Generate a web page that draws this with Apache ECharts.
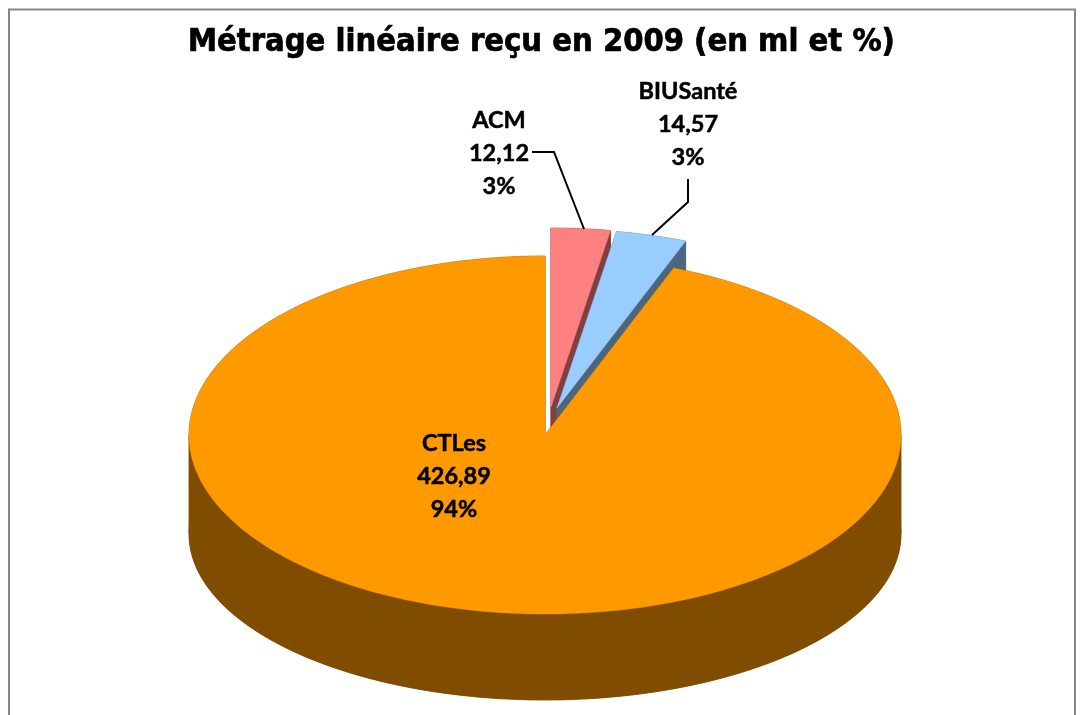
<!DOCTYPE html>
<html>
<head>
<meta charset="utf-8">
<title>Métrage linéaire reçu en 2009</title>
<script src="https://cdn.jsdelivr.net/npm/echarts@6/dist/echarts.min.js"></script>
<style>
  html, body { margin: 0; padding: 0; background: #fff; }
  #chart { width: 1080px; height: 715px; }
</style>
</head>
<body>
<div id="chart"></div>
<script>
// chart data
var chartTitle = "Métrage linéaire reçu en 2009 (en ml et %)";
var categories = ["ACM", "BIUSanté", "CTLes"];
var metrage = [12.12, 14.57, 426.89];

// look of each slice, same order as categories
var topColors = ["#FF8080", "#99CCFF", "#FF9900"];
var sideColors = ["#804040", "#4D6680", "#804D00"];
var sliceOffsets = [[6, -28], [12, -27], [0, 0]];
var labelCenters = [[499, 120], [688, 91], [454, 443]];
var leaderLines = [
  [[532, 152], [554, 152], [584, 229]],
  [[688, 179], [688, 202], [652, 235]],
  null
];

// ellipse of the pie
var cx = 545, cy = 435, rx = 356, ry = 179;
// the lower rim is a bit flatter than the top one
var lowerShift = 99, lowerRy = 166;

var total = metrage.reduce(function (a, b) { return a + b; }, 0);

function angleOf(index) {
  var sum = 0;
  for (var i = 0; i < index; i++) sum += metrage[i];
  return (sum / total) * Math.PI * 2;
}

function arcPoints(a0, a1, x0, y0, h) {
  var pts = [];
  var steps = Math.max(2, Math.ceil((a1 - a0) / (Math.PI / 180)));
  for (var i = 0; i <= steps; i++) {
    var a = a0 + ((a1 - a0) * i) / steps;
    pts.push([x0 + rx * Math.sin(a), y0 - h * Math.cos(a)]);
  }
  return pts;
}

function poly(points, color) {
  return {
    type: "polygon",
    shape: { points: points },
    style: { fill: color, stroke: color, lineWidth: 0.5 }
  };
}

// outer wall, cut where the rim turns back so the fill does not cancel out
function wallParts(a0, a1, x0, y0, color) {
  var parts = [];
  var cuts = [a0];
  [Math.PI / 2, (Math.PI * 3) / 2].forEach(function (c) {
    if (c > a0 && c < a1) cuts.push(c);
  });
  cuts.push(a1);
  for (var i = 0; i < cuts.length - 1; i++) {
    var up = arcPoints(cuts[i], cuts[i + 1], x0, y0, ry);
    var low = arcPoints(cuts[i], cuts[i + 1], x0, y0 + lowerShift, lowerRy);
    parts.push(poly(up.concat(low.reverse()), color));
  }
  return parts;
}

function renderSlice(params, api) {
  var i = params.dataIndex;
  var a0 = angleOf(i);
  var a1 = a0 + (api.value(0) / total) * Math.PI * 2;
  var x0 = cx + sliceOffsets[i][0];
  var y0 = cy + sliceOffsets[i][1];

  var upper = arcPoints(a0, a1, x0, y0, ry);
  var lower = arcPoints(a0, a1, x0, y0 + lowerShift, lowerRy);
  var apex = [x0, y0];
  var lowerApex = [x0, y0 + lowerShift];
  var first = upper[0], last = upper[upper.length - 1];
  var color = sideColors[i];

  var children = [poly([lowerApex].concat(lower), color)]
    .concat(wallParts(a0, a1, x0, y0, color))
    .concat([
      poly([apex, first, lower[0], lowerApex], color),
      poly([apex, last, lower[lower.length - 1], lowerApex], color),
      poly([apex].concat(upper), topColors[i])
    ]);

  if (leaderLines[i]) {
    children.push({
      type: "polyline",
      z2: 20,
      shape: { points: leaderLines[i] },
      style: { fill: null, stroke: "#000", lineWidth: 2 }
    });
  }

  var rows = [
    categories[i],
    api.value(0).toFixed(2).replace(".", ","),
    Math.round((api.value(0) / total) * 100) + "%"
  ];
  for (var r = 0; r < rows.length; r++) {
    children.push({
      type: "text",
      z2: 30,
      style: {
        x: labelCenters[i][0],
        y: labelCenters[i][1] + r * 33,
        text: rows[r],
        align: "center",
        verticalAlign: "middle",
        fill: "#000",
        stroke: "#000",
        lineWidth: 0.5,
        font: "bold 23.5px Lato"
      }
    });
  }

  return { type: "group", children: children };
}

var myChart = echarts.init(document.getElementById("chart"), null, { renderer: "canvas" });

var option = {
  animation: false,
  backgroundColor: "#fff",
  title: {
    text: chartTitle,
    left: 183,
    top: 22,
    textStyle: {
      fontFamily: "'DejaVu Sans Condensed', 'DejaVu Sans'",
      fontWeight: "bold",
      fontSize: 32.4,
      color: "#000",
      textBorderColor: "#000",
      textBorderWidth: 0.7
    }
  },
  graphic: [
    {
      type: "rect",
      silent: true,
      shape: { x: 9, y: 9.5, width: 1066, height: 800 },
      style: { fill: null, stroke: "#868686", lineWidth: 2 }
    }
  ],
  series: [
    {
      type: "custom",
      coordinateSystem: "none",
      renderItem: renderSlice,
      data: metrage
    }
  ]
};

myChart.setOption(option);
</script>
</body>
</html>
